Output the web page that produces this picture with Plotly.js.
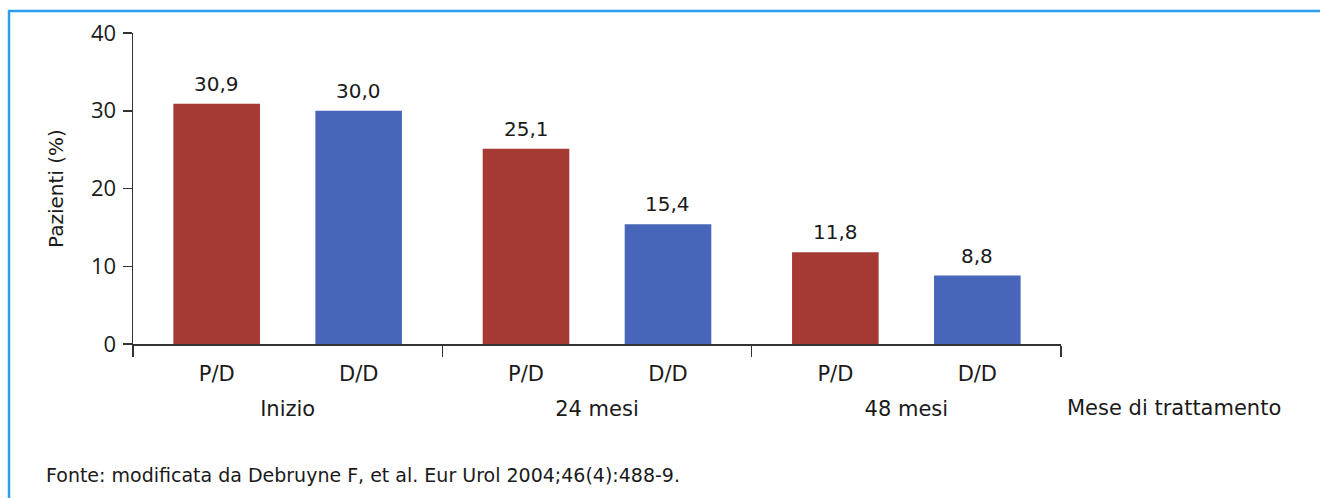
<!DOCTYPE html>
<html>
<head>
<meta charset="utf-8">
<script src="https://cdn.plot.ly/plotly-3.0.1.min.js"></script>
<style>
html,body{margin:0;padding:0;background:#fff;}
#chart{width:1320px;height:498px;}
</style>
</head>
<body>
<div id="chart"></div>
<script>
// Data
const groups = ["Inizio", "24 mesi", "48 mesi"];
const seriesNames = ["P/D", "D/D"];
const valuesPD = [30.9, 25.1, 11.8];
const valuesDD = [30.0, 15.4, 8.8];
const yTicks = [0, 10, 20, 30, 40];
const xAxisTitle = "Mese di trattamento";
const yAxisTitle = "Pazienti (%)";
const sourceNote = "Fonte: modificata da Debruyne F, et al. Eur Urol 2004;46(4):488-9.";

const colors = {"P/D": "#A53A35", "D/D": "#4766B9"};
const labelFont = "DejaVu Sans, Verdana, sans-serif";
const textColor = "#1a1a1a";
const bargap = 0.082;
const slot = (1 - bargap) / 2;

function barTrace(name, vals) {
  return {
    type: "bar",
    name: name,
    x: groups,
    y: vals,
    marker: {color: colors[name], line: {width: 0}},
    hoverinfo: "skip"
  };
}

const traces = [barTrace("P/D", valuesPD), barTrace("D/D", valuesDD)];

// sub-category positions (centres of grouped bars) and value labels
const seriesValues = {"P/D": valuesPD, "D/D": valuesDD};
const subVals = [], subText = [], valueAnnotations = [];
groups.forEach((g, i) => {
  seriesNames.forEach((s, j) => {
    const xv = i + (j - 0.5) * slot;
    subVals.push(xv);
    subText.push(s);
    const v = seriesValues[s][i];
    valueAnnotations.push({
      xref: "x2", yref: "y", x: xv, y: v,
      text: v.toFixed(1).replace(".", ","),
      xanchor: "center", yanchor: "bottom", yshift: 6,
      showarrow: false,
      font: {family: labelFont, size: 20, color: textColor}
    });
  });
});

const layout = {
  width: 1320,
  height: 498,
  margin: {l: 133, r: 259, t: 33, b: 154},
  paper_bgcolor: "#ffffff",
  plot_bgcolor: "#ffffff",
  separators: ",.",
  showlegend: false,
  barmode: "group",
  bargap: bargap,
  bargroupgap: 0.39,
  font: {family: labelFont, color: textColor},
  xaxis: {
    type: "category",
    categoryorder: "array",
    categoryarray: groups,
    tickson: "boundaries",
    ticks: "outside",
    ticklen: 11,
    tickwidth: 1.5,
    tickcolor: "#333",
    showline: true,
    linecolor: "#333",
    linewidth: 1.5,
    showgrid: false,
    zeroline: false,
    ticklabelstandoff: 45,
    tickfont: {family: labelFont, size: 21, color: textColor},
    fixedrange: true
  },
  xaxis2: {
    overlaying: "x",
    anchor: "y",
    side: "bottom",
    range: [-0.5, groups.length - 0.5],
    tickmode: "array",
    tickvals: subVals,
    ticktext: subText,
    ticks: "",
    showline: false,
    showgrid: false,
    zeroline: false,
    ticklabelstandoff: 15,
    tickfont: {family: labelFont, size: 21, color: textColor},
    fixedrange: true
  },
  yaxis: {
    range: [0, 40],
    tickmode: "array",
    tickvals: yTicks,
    ticks: "outside",
    ticklen: 9,
    tickwidth: 1.5,
    tickcolor: "#333",
    showline: true,
    linecolor: "#333",
    linewidth: 1.5,
    showgrid: false,
    zeroline: false,
    ticklabelstandoff: 2,
    tickfont: {family: "Open Sans, sans-serif", size: 22, color: textColor},
    title: {text: yAxisTitle, font: {family: labelFont, size: 20, color: textColor}, standoff: 22},
    fixedrange: true
  },
  annotations: valueAnnotations.concat([
    {
      text: xAxisTitle, xref: "paper", yref: "paper",
      x: 1.0, y: 0, xanchor: "left", yanchor: "top",
      xshift: 4, yshift: -50,
      showarrow: false,
      font: {family: labelFont, size: 21, color: textColor}
    },
    {
      text: sourceNote, xref: "paper", yref: "paper",
      x: 0, y: 0, xanchor: "left", yanchor: "top",
      xshift: -89, yshift: -118,
      showarrow: false,
      font: {family: labelFont, size: 19, color: textColor}
    }
  ]),
  shapes: [
    {
      type: "path", xref: "paper", yref: "paper",
      path: "M -0.1336 -0.6 L -0.1336 1.071 L 1.3 1.071",
      line: {color: "#2E9CF0", width: 2.5}
    }
  ]
};

// empty trace on xaxis2 so the overlaying axis is drawn
traces.push({type: "scatter", x: [], y: [], xaxis: "x2", yaxis: "y", hoverinfo: "skip", showlegend: false});

Plotly.newPlot("chart", traces, layout, {displayModeBar: false, staticPlot: true});
</script>
</body>
</html>
